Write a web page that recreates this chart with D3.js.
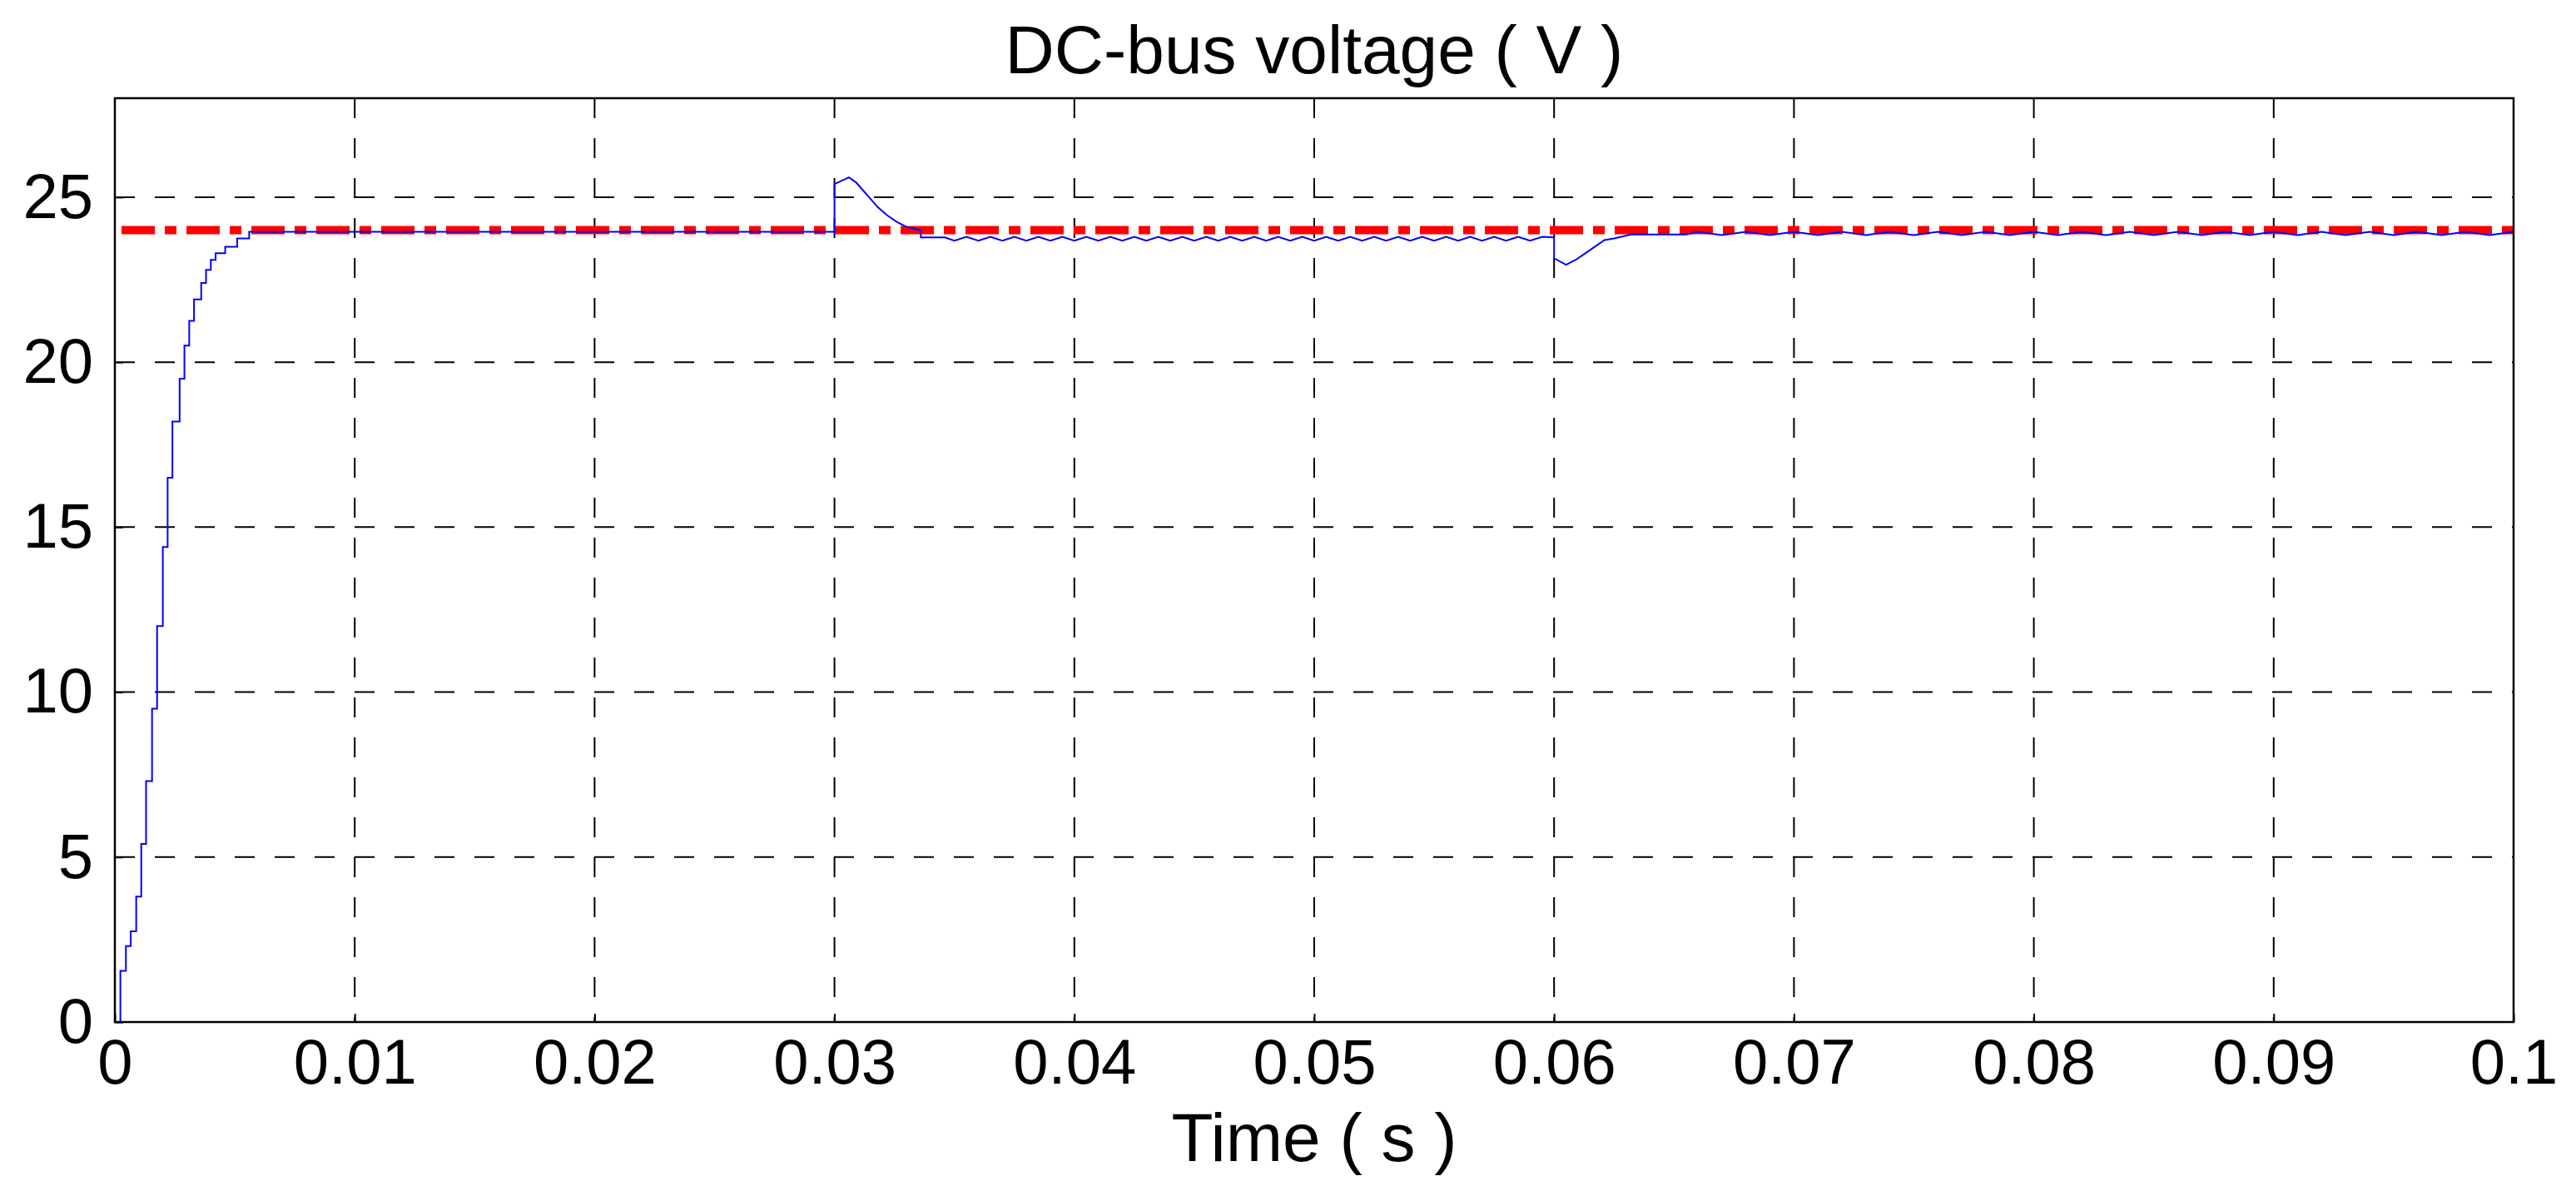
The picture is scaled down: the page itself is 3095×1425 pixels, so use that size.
<!DOCTYPE html>
<html><head><meta charset="utf-8">
<script src="https://cdn.jsdelivr.net/npm/d3@7/dist/d3.min.js"></script>
<style>body{margin:0;background:#fff}svg{display:block}</style>
</head><body>
<svg id="c" width="3095" height="1425"></svg>
<script>
const title = "DC-bus voltage ( V )";
const xLabel = "Time ( s )";
const xTicks = [0,0.01,0.02,0.03,0.04,0.05,0.06,0.07,0.08,0.09,0.1];
const xTickLabels = ["0","0.01","0.02","0.03","0.04","0.05","0.06","0.07","0.08","0.09","0.1"];
const yTicks = [0,5,10,15,20,25];
const refValue = 24;
// startup staircase: step instants and held levels
const stepT = [0.00023,0.00046,0.00066,0.00089,0.0011,0.0013,0.00155,0.00176,0.002,0.0022,0.0024,0.0027,0.0029,0.0031,0.0033,0.0036,0.0038,0.004,0.0042,0.0046,0.0051,0.0056];
const stepV = [1.55,2.3,2.75,3.8,5.4,7.3,9.5,12.0,14.4,16.5,18.2,19.5,20.5,21.25,21.9,22.4,22.8,23.1,23.3,23.5,23.75,23.95];
// load step at 0.03 s
const evt1T = [0.03,0.03,0.0303,0.0306,0.0309,0.0312,0.0315,0.0318,0.0322,0.0326,0.033,0.0336,0.0336,0.0346];
const evt1V = [24.0,25.4,25.5,25.6,25.45,25.2,24.95,24.7,24.45,24.25,24.1,24.0,23.78,23.78];
// ripple 0.035–0.06 s
const rip1T = [0.035,0.0355,0.036,0.0365,0.037,0.0375,0.038,0.0385,0.039,0.0395,0.04,0.0405,0.041,0.0415,0.042,0.0425,0.043,0.0435,0.044,0.0445,0.045,0.0455,0.046,0.0465,0.047,0.0475,0.048,0.0485,0.049,0.0495,0.05,0.0505,0.051,0.0515,0.052,0.0525,0.053,0.0535,0.054,0.0545,0.055,0.0555,0.056,0.0565,0.057,0.0575,0.058,0.0585,0.059,0.0595,0.06];
const rip1V = [23.68,23.8,23.68,23.8,23.68,23.8,23.68,23.8,23.68,23.8,23.68,23.8,23.68,23.8,23.68,23.8,23.68,23.8,23.68,23.8,23.68,23.8,23.68,23.8,23.68,23.8,23.68,23.8,23.68,23.8,23.68,23.8,23.68,23.8,23.68,23.8,23.68,23.8,23.68,23.8,23.68,23.8,23.68,23.8,23.68,23.8,23.68,23.8,23.68,23.8,23.78];
// load step at 0.06 s
const evt2T = [0.06,0.0605,0.0609,0.0613,0.0617,0.0621,0.0625,0.0632,0.0655];
const evt2V = [23.15,22.95,23.1,23.3,23.5,23.7,23.75,23.87,23.87];
// ripple 0.066–0.1 s
const rip2T = [0.066,0.067,0.068,0.069,0.07,0.071,0.072,0.073,0.074,0.075,0.076,0.077,0.078,0.079,0.08,0.081,0.082,0.083,0.084,0.085,0.086,0.087,0.088,0.089,0.09,0.091,0.092,0.093,0.094,0.095,0.096,0.097,0.098,0.099,0.1];
const rip2V = [23.95,23.85,23.95,23.85,23.95,23.85,23.95,23.85,23.95,23.85,23.95,23.85,23.95,23.85,23.95,23.85,23.95,23.85,23.95,23.85,23.95,23.85,23.95,23.85,23.95,23.85,23.95,23.85,23.95,23.85,23.95,23.85,23.95,23.85,23.95];

const svg = d3.select("#c");
const L=138, R=3020, T=118, B=1228;
const x = d3.scaleLinear().domain([0,0.1]).range([L,R]);
const y = d3.scaleLinear().domain([0,28]).range([B,T]);
const font = "Liberation Sans, Arial, sans-serif";

const g = svg.append("g");
g.selectAll(".vx").data(xTicks.slice(1,-1)).join("line")
  .attr("x1",d=>x(d)).attr("x2",d=>x(d)).attr("y1",T).attr("y2",B)
  .attr("stroke","#000").attr("stroke-width",2).attr("stroke-dasharray","24,24");
g.selectAll(".hy").data(yTicks.slice(1)).join("line")
  .attr("x1",L).attr("x2",R).attr("y1",d=>y(d)).attr("y2",d=>y(d))
  .attr("stroke","#000").attr("stroke-width",2).attr("stroke-dasharray","24,24");

svg.append("line").attr("x1",x(0)+8).attr("x2",R).attr("y1",y(refValue)).attr("y2",y(refValue))
  .attr("stroke","#ff0000").attr("stroke-width",10).attr("stroke-dasharray","40,12,14,12");

const pts = [[0,0]];
let prev = 0;
stepT.forEach((t,i)=>{pts.push([t,prev]); pts.push([t,stepV[i]]); prev = stepV[i];});
pts.push([0.03,prev]);
evt1T.forEach((t,i)=>pts.push([t,evt1V[i]]));
rip1T.forEach((t,i)=>pts.push([t,rip1V[i]]));
evt2T.forEach((t,i)=>pts.push([t,evt2V[i]]));
rip2T.forEach((t,i)=>pts.push([t,rip2V[i]]));
svg.append("path").datum(pts)
  .attr("d", d3.line().x(d=>x(d[0])).y(d=>y(d[1])))
  .attr("fill","none").attr("stroke","#0000ff").attr("stroke-width",2);

svg.append("rect").attr("x",L).attr("y",T).attr("width",R-L).attr("height",B-T)
  .attr("fill","none").attr("stroke","#000").attr("stroke-width",2.5);

const xa = svg.append("g").attr("transform",`translate(0,${B})`)
  .call(d3.axisBottom(x).tickValues(xTicks).tickFormat((d,i)=>xTickLabels[i]).tickSizeInner(-10).tickSizeOuter(0).tickPadding(20));
const ya = svg.append("g").attr("transform",`translate(${L},0)`)
  .call(d3.axisLeft(y).tickValues(yTicks).tickSizeInner(-10).tickSizeOuter(0).tickPadding(26));
[xa,ya].forEach(a=>{a.select(".domain").remove();
  a.selectAll("line").attr("stroke","#000").attr("stroke-width",2);
  a.selectAll("text").attr("font-family",font).attr("font-size",76).attr("fill","#000");});

svg.append("text").attr("x",(L+R)/2).attr("y",88).attr("text-anchor","middle")
  .attr("font-family",font).attr("font-size",82).text(title);
svg.append("text").attr("x",(L+R)/2).attr("y",1395).attr("text-anchor","middle")
  .attr("font-family",font).attr("font-size",82).text(xLabel);
</script>
</body></html>
